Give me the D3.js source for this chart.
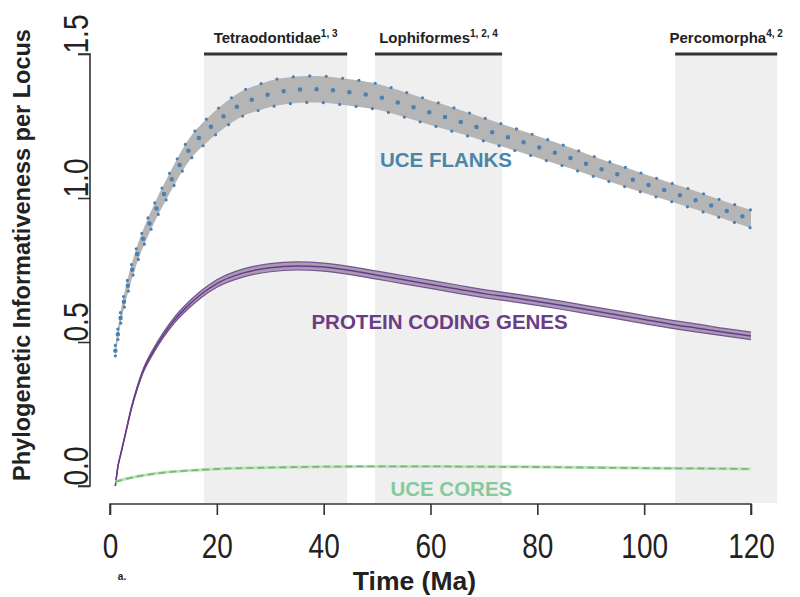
<!DOCTYPE html>
<html>
<head>
<meta charset="utf-8">
<script src="https://cdn.jsdelivr.net/npm/d3@7/dist/d3.min.js"></script>
<style>
html,body{margin:0;padding:0;background:#fff;}
svg{display:block;}
</style>
</head>
<body>
<svg id="chart" width="800" height="597"></svg>
<script>
// ---------- data ----------
const xTicks = [0, 20, 40, 60, 80, 100, 120];
const yTicks = [0.0, 0.5, 1.0, 1.5];
const yTickLabels = ["0.0", "0.5", "1.0", "1.5"];

const cladeNames = ["Tetraodontidae", "Lophiformes", "Percomorpha"];
const cladeRefs = ["1, 3", "1, 2, 4", "4, 2"];
const cladeStart = [17.6, 49.6, 105.8];
const cladeEnd = [44.4, 73.4, 124.9];

// UCE flanks (dotted, grey band)
const flankT   = [1,2,3,4,5,6,7,8,9,10,12,14,16,18,20,22,25,28,31,34,37,40,43,46,50,54,58,62,66,70,74,78,82,86,90,95,100,105,110,115,120];
const flankMid = [0.47,0.585,0.67,0.74,0.80,0.85,0.895,0.935,0.975,1.01,1.08,1.145,1.195,1.232,1.265,1.295,1.33,1.35,1.366,1.374,1.378,1.377,1.371,1.364,1.352,1.331,1.308,1.285,1.262,1.238,1.214,1.19,1.165,1.14,1.113,1.082,1.05,1.02,0.99,0.958,0.927];
const flankHi  = [0.488,0.607,0.695,0.767,0.829,0.88,0.926,0.967,1.008,1.044,1.116,1.183,1.235,1.273,1.307,1.338,1.374,1.395,1.412,1.42,1.424,1.423,1.417,1.41,1.397,1.375,1.351,1.327,1.303,1.278,1.253,1.228,1.202,1.176,1.148,1.116,1.083,1.052,1.022,0.989,0.958];
const flankLo  = [0.452,0.563,0.645,0.713,0.771,0.82,0.864,0.903,0.942,0.976,1.044,1.107,1.155,1.191,1.223,1.252,1.286,1.305,1.32,1.328,1.332,1.331,1.325,1.318,1.307,1.287,1.265,1.243,1.221,1.198,1.175,1.152,1.128,1.104,1.078,1.048,1.017,0.988,0.958,0.927,0.896];

// Protein coding genes
const pcgT   = [1,1.5,2,3,4,5,6,8,10,12,14,17,20,25,30,35,40,45,50,55,60,65,70,75,80,85,90,95,100,105,110,115,120];
const pcgMid = [0,0.07,0.11,0.19,0.27,0.335,0.39,0.465,0.525,0.575,0.615,0.665,0.703,0.74,0.758,0.764,0.76,0.748,0.732,0.716,0.70,0.684,0.668,0.655,0.641,0.626,0.61,0.594,0.578,0.562,0.548,0.534,0.521];
const pcgHi  = [0,0.071,0.112,0.193,0.274,0.34,0.396,0.473,0.534,0.585,0.626,0.677,0.716,0.754,0.772,0.778,0.774,0.762,0.746,0.73,0.714,0.698,0.682,0.669,0.655,0.64,0.624,0.608,0.592,0.576,0.562,0.547,0.534];
const pcgLo  = [0,0.069,0.108,0.187,0.266,0.33,0.384,0.457,0.516,0.565,0.604,0.653,0.690,0.726,0.744,0.75,0.746,0.734,0.718,0.702,0.686,0.67,0.654,0.641,0.627,0.612,0.596,0.58,0.564,0.548,0.534,0.521,0.508];

// UCE cores
const coreT   = [1,3,5,8,12,16,20,30,40,50,60,70,80,90,100,110,120];
const coreMid = [0.015,0.025,0.033,0.042,0.05,0.055,0.059,0.064,0.067,0.068,0.068,0.067,0.066,0.064,0.062,0.061,0.059];

const seriesLabels = ["UCE FLANKS", "PROTEIN CODING GENES", "UCE CORES"];

// ---------- layout ----------
const svg = d3.select("#chart");
const x = d3.scaleLinear().domain([0, 120]).range([110, 751]);
const y = d3.scaleLinear().domain([0, 1.5]).range([486, 54]);
const bandTop = 54, bandBottom = 503;
const sans = "Liberation Sans, Arial, Helvetica, sans-serif";

const zip = (t, v) => t.map((d, i) => [d, v[i]]);
const line = d3.line().x(d => x(d[0])).y(d => y(d[1])).curve(d3.curveMonotoneX);
const area = d3.area().x(d => x(d.t)).y0(d => y(d.lo)).y1(d => y(d.hi)).curve(d3.curveMonotoneX);

// clade shaded bands
const clades = cladeNames.map((n, i) => ({name: n, ref: cladeRefs[i], s: cladeStart[i], e: cladeEnd[i]}));
svg.append("g").selectAll("rect").data(clades).join("rect")
  .attr("x", d => x(d.s)).attr("width", d => x(d.e) - x(d.s))
  .attr("y", bandTop).attr("height", bandBottom - bandTop)
  .attr("fill", "#efefef");

svg.append("g").selectAll("line").data(clades).join("line")
  .attr("x1", d => x(d.s)).attr("x2", d => x(d.e))
  .attr("y1", bandTop).attr("y2", bandTop)
  .attr("stroke", "#333").attr("stroke-width", 3.2);

const ct = svg.append("g").selectAll("text").data(clades).join("text")
  .attr("x", d => (x(d.s) + x(d.e)) / 2).attr("y", 43)
  .attr("text-anchor", "middle")
  .attr("font-family", sans)
  .attr("font-weight", "bold").attr("font-size", 15).attr("fill", "#222");
ct.append("tspan").text(d => d.name);
ct.append("tspan").attr("font-size", 10).attr("dy", -6).text(d => d.ref);

// UCE flanks band
const flankData = flankT.map((t, i) => ({t, lo: flankLo[i], hi: flankHi[i]}));
svg.append("path").attr("d", area(flankData)).attr("fill", "#b5b5b5");
[flankHi, flankLo].forEach(arr => {
  svg.append("path").attr("d", line(zip(flankT, arr)))
    .attr("fill", "none").attr("stroke", "#4b80b2").attr("stroke-width", 3.2)
    .attr("stroke-linecap", "round").attr("stroke-dasharray", "0 16.5");
});
svg.append("path").attr("d", line(zip(flankT, flankMid)))
  .attr("fill", "none").attr("stroke", "#4b80b2").attr("stroke-width", 4.5)
  .attr("stroke-linecap", "round").attr("stroke-dasharray", "0 16.5");

// Protein coding genes band
const pcgData = pcgT.map((t, i) => ({t, lo: pcgLo[i], hi: pcgHi[i]}));
svg.append("path").attr("d", area(pcgData)).attr("fill", "#a89bb8");
[pcgHi, pcgLo].forEach(arr => {
  svg.append("path").attr("d", line(zip(pcgT, arr)))
    .attr("fill", "none").attr("stroke", "#74568c").attr("stroke-width", 1.2);
});
svg.append("path").attr("d", line(zip(pcgT, pcgMid)))
  .attr("fill", "none").attr("stroke", "#6a3a86").attr("stroke-width", 1.5);

// UCE cores
svg.append("path").attr("d", line(zip(coreT, coreMid)))
  .attr("fill", "none").attr("stroke", "#bfe2bf").attr("stroke-width", 3);
svg.append("path").attr("d", line(zip(coreT, coreMid)))
  .attr("fill", "none").attr("stroke", "#72bd72").attr("stroke-width", 1.8)
  .attr("stroke-dasharray", "7 4");

// series labels
const labInfo = [
  {t: seriesLabels[0], xv: 62.9, yv: 1.108, c: "#4a86a8"},
  {t: seriesLabels[1], xv: 61.7, yv: 0.545, c: "#6b3d87"},
  {t: seriesLabels[2], xv: 63.9, yv: -0.035, c: "#86c99b"}
];
svg.append("g").selectAll("text").data(labInfo).join("text")
  .attr("x", d => x(d.xv)).attr("y", d => y(d.yv))
  .attr("text-anchor", "middle")
  .attr("font-family", sans)
  .attr("font-weight", "bold").attr("font-size", 20.5)
  .attr("fill", d => d.c).text(d => d.t);

// ---------- axes ----------
const axisColor = "#333";
const xAxis = svg.append("g").attr("transform", "translate(0,504)")
  .call(d3.axisBottom(x).tickValues(xTicks).tickSize(11).tickPadding(6).tickFormat(d3.format("d")));
xAxis.select(".domain").attr("stroke", axisColor).attr("stroke-width", 1.6).attr("d", `M${x(0)},11V0H${x(120)}V11`);
xAxis.selectAll(".tick line").attr("stroke", axisColor).attr("stroke-width", 1.6);
xAxis.selectAll(".tick text")
  .attr("font-family", sans)
  .attr("font-size", 35).attr("fill", "#222")
  .attr("y", null).attr("dy", null)
  .attr("transform", "translate(0,54) scale(0.8,1)");

const yAxis = svg.append("g").attr("transform", "translate(90,0)")
  .call(d3.axisLeft(y).tickValues(yTicks).tickSize(12).tickFormat((d, i) => yTickLabels[i]));
yAxis.select(".domain").attr("stroke", axisColor).attr("stroke-width", 1.6).attr("d", `M-12,${y(1.5)}H0V${y(0)}H-12`);
yAxis.selectAll(".tick line").attr("stroke", axisColor).attr("stroke-width", 1.6);
yAxis.selectAll(".tick text")
  .attr("font-family", sans)
  .attr("font-size", 36).attr("fill", "#222")
  .attr("text-anchor", "start").attr("dy", null)
  .attr("x", null)
  .attr("transform", "translate(-2,-1) rotate(-90) scale(0.78,1)");

// axis titles
svg.append("text").attr("x", x(57)).attr("y", 590)
  .attr("text-anchor", "middle")
  .attr("font-family", sans)
  .attr("font-weight", "bold").attr("font-size", 26.5).attr("fill", "#222")
  .text("Time (Ma)");

svg.append("text").attr("transform", "translate(30,255) rotate(-90)")
  .attr("text-anchor", "middle")
  .attr("font-family", sans)
  .attr("font-weight", "bold").attr("font-size", 23.5).attr("fill", "#222")
  .text("Phylogenetic Informativeness per Locus");

svg.append("text").attr("x", 122).attr("y", 580)
  .attr("text-anchor", "middle")
  .attr("font-family", sans)
  .attr("font-weight", "bold").attr("font-size", 10).attr("fill", "#222")
  .text("a.");
</script>
</body>
</html>
